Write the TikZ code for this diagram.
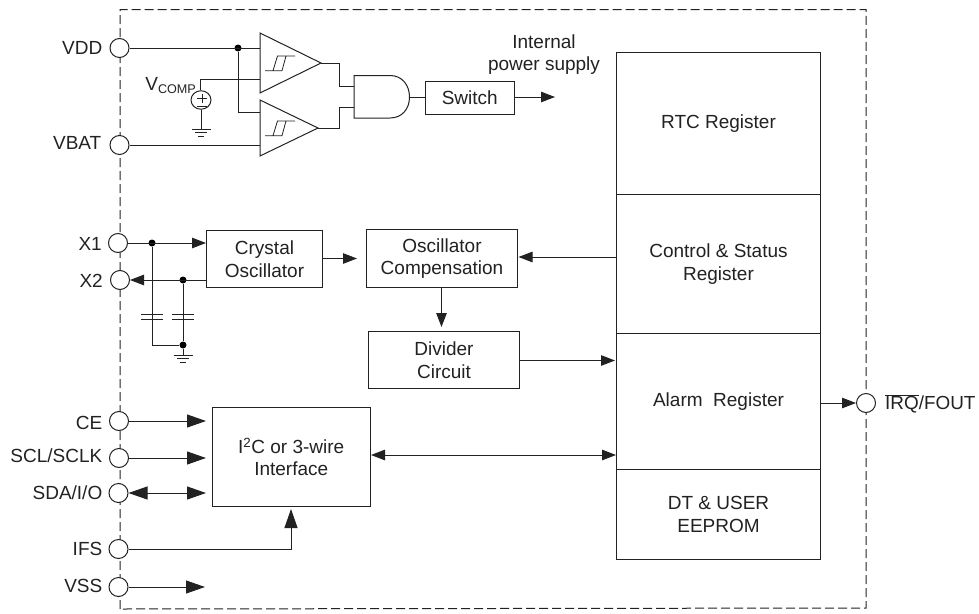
\documentclass[tikz,border=0pt]{standalone}
\usepackage{fontspec}
\setmainfont{Liberation Sans}
\usetikzlibrary{arrows.meta}
\definecolor{ink}{HTML}{222222}
\tikzset{
  wire/.style={line width=1pt,draw=ink},
  arr/.style={wire,-{Triangle[length=14pt,width=10.5pt]}},
  darr/.style={wire,{Triangle[length=14pt,width=10.5pt]}-{Triangle[length=14pt,width=10.5pt]}},
  arrbig/.style={wire,-{Triangle[length=19pt,width=13pt]}},
  darrbig/.style={wire,{Triangle[length=19pt,width=13pt]}-{Triangle[length=19pt,width=13pt]}},
  pin/.style={circle,draw=ink,line width=1pt,fill=white,minimum size=19pt,inner sep=0pt},
  pinlabel/.style={anchor=east,inner sep=0pt,text=ink,font=\fontsize{19}{22}\selectfont,text height=13.6pt,text depth=0pt},
  blockbox/.style={draw=ink,line width=1pt,fill=white,align=center,inner sep=0pt,text=ink,font=\fontsize{19}{22.6}\selectfont},
  txt/.style={align=center,inner sep=0pt,text=ink,font=\fontsize{19}{22.6}\selectfont},
  dotj/.style={circle,fill=black,minimum size=7pt,inner sep=0pt},
  gnd/.pic={
    \draw[wire] (-9.5,0) -- (9.5,0);
    \draw[wire] (-6,3.5) -- (6,3.5);
    \draw[wire] (-3,7) -- (3,7);
  },
  hyst/.pic={
    \draw[wire,line width=0.8pt] (0,14.7) -- (12,14.7) (8,14.7) -- (12.5,0) -- (30,0) (21,0) -- (17,14.7) -- (8,14.7);
  },
  cap/.pic={
    \draw[wire] (-11,-2.5) -- (11,-2.5) (-11,2.5) -- (11,2.5);
  }
}
\newcommand{\blockrect}[6]{\node[blockbox,minimum width=#4pt-#2pt,minimum height=#5pt-#3pt,anchor=north west] (#1) at (#2,#3) {#6};}
\begin{document}
\begin{tikzpicture}[x=1pt,y=-1pt]
\useasboundingbox (0,0) rectangle (979,613);
% frame
\draw[draw=ink,line width=1pt,dash pattern=on 9pt off 4pt] (120,609) -- (120,9.5) -- (866,9.5) -- (866,608) -- cycle;

% pins
\node[pin] (vdd) at (119.5,48) {};
\node[pin] (vbat) at (119.5,145) {};
\node[pin] (xone) at (118,243) {};
\node[pin] (xtwo) at (120,280) {};
\node[pin] (ce) at (119,421) {};
\node[pin] (scl) at (119,458) {};
\node[pin] (sda) at (118.5,493) {};
\node[pin] (ifs) at (118.5,549) {};
\node[pin] (vss) at (118.5,587) {};
\node[pin] (irq) at (866,403) {};
% pin labels
\node[pinlabel] (lvdd) at (102.5,48) {VDD};
\node[pinlabel] (lvbat) at (101.5,143) {VBAT};
\node[pinlabel] (lxone) at (102,244) {X1};
\node[pinlabel] (lxtwo) at (103,281) {X2};
\node[pinlabel] (lce) at (102.5,423) {CE};
\node[pinlabel] (lscl) at (102.5,456) {SCL/SCLK};
\node[pinlabel] (lsda) at (102.5,493) {SDA/I/O};
\node[pinlabel] (lifs) at (102.5,549) {IFS};
\node[pinlabel] (lvss) at (102.5,586) {VSS};
\node[anchor=west,inner sep=0pt,text=ink,font=\fontsize{18.9}{22}\selectfont,text height=13.6pt,text depth=0pt] (lirq) at (885,403) {$\overline{\mbox{IRQ}}$/FOUT};

% register stack
\blockrect{rtc}{616}{52}{820}{194}{RTC Register}
\blockrect{ctrl}{616}{194}{820}{333}{Control \& Status\\Register}
\blockrect{alarm}{616}{333}{820}{469}{Alarm\ \ Register}
\blockrect{eeprom}{616}{469}{820}{559}{DT \& USER\\EEPROM}

% blocks
\blockrect{switch}{424.5}{80.5}{514}{114}{Switch}
\blockrect{xtal}{206}{230}{322}{287}{Crystal\\Oscillator}
\blockrect{comp}{366}{229}{517}{287}{Oscillator\\Compensation}
\blockrect{divider}{368}{331}{519}{388}{Divider\\Circuit}
\blockrect{iface}{212}{407}{369.5}{506}{I\textsuperscript{2}C or 3-wire\\Interface}
\node[txt] (intps) at (544,54.5) {Internal\\power supply};

% comparators
\draw[wire,fill=white] (260,33) coordinate (ca1) -- (321,63) coordinate (cao) -- (260,93) coordinate (ca2) -- cycle;
\draw[wire,fill=white] (260,100) coordinate (cb1) -- (318,128) coordinate (cbo) -- (260,156) coordinate (cb2) -- cycle;
\pic at (265,56) {hyst};
\pic at (265,121) {hyst};

% AND gate
\draw[wire,fill=white] (354,75.5) -- (390,75.5) .. controls (402,75.5) and (409.5,85) .. (409.5,97) coordinate (ando)
  .. controls (409.5,109) and (402,118) .. (390,118) -- (354,118) -- cycle;
\coordinate (andi1) at (354,86);
\coordinate (andi2) at (354,107);

% VDD / VBAT wiring
\coordinate (cain) at (260,48);
\coordinate (cbin) at (260,112);
\coordinate (caref) at (260,79);
\coordinate (cbref) at (260,145);
\node[dotj] (jvdd) at (238,48) {};
\draw[wire] (vdd) -- (cain);
\draw[wire] (jvdd) |- (cbin);
\draw[wire] (vbat) -- (cbref);

% Vcomp source
\node[draw=ink,line width=1pt,fill=white,circle,minimum size=18.5pt,inner sep=0pt,xscale=1.08] (vsrc) at (201,100) {};
\coordinate (vtop) at (200.5,79);
\draw[wire] (caref) -- (vtop) -- (vsrc.north -| vtop);
\draw[line width=0.5pt,draw=ink] (197,98) -- (207,98) (202.5,93.5) -- (202.5,103) (197,106.5) -- (207,106.5);
\coordinate (vgnd) at (201,129);
\draw[wire] (vsrc) -- (vgnd);
\pic at (vgnd) {gnd};
\node[inner sep=0pt,anchor=east,text=ink,font=\fontsize{19}{22}\selectfont,text height=13.6pt,text depth=3.5pt] (lvcomp) at (196,85) {V\raisebox{-3.5pt}{\fontsize{12.6}{14}\selectfont COMP}};

% gate wires
\draw[wire] (cao) -- (339,63) -- (339,86) -- (andi1);
\draw[wire] (cbo) -- (339,128) -- (339,107) -- (andi2);
\draw[wire] (ando) -- (switch.west |- ando);
\coordinate (pwrout) at (555,97);
\draw[arr] (switch.east |- pwrout) -- (pwrout);

% crystal section
\node[dotj] (jx1) at (152,243) {};
\node[dotj] (jx2) at (183,280) {};
\node[dotj] (jg) at (183,345) {};
\coordinate (xin) at (206,243);
\coordinate (xout) at (206,280);
\draw[arr] (xone) -- (xin);
\draw[arr] (xout) -- (xtwo);
\coordinate (capa) at (152,317);
\coordinate (capb) at (183,317);
\draw[wire] (jx1) -- (capa);
\draw[wire] (jx2) -- (capb);
\draw[wire] (capa) -- (152,345) -- (jg);
\draw[wire] (capb) -- (jg);
\pic at (capa) {cap};
\pic at (capb) {cap};
\coordinate (xgnd) at (183,355);
\draw[wire] (jg) -- (xgnd);
\pic at (xgnd) {gnd};

% block connectors
\coordinate (compin) at (357,258.5);
\coordinate (compout) at (518.5,257);
\coordinate (divin) at (441.5,327);
\coordinate (alarmin) at (615,360.5);
\coordinate (ifl) at (371,455);
\coordinate (ifr) at (616,455);
\draw[arr] (xtal.east |- compin) -- (compin);
\draw[arr] (ctrl.west |- compout) -- (compout);
\draw[arr] (comp.south -| divin) -- (divin);
\draw[arr] (divider.east |- alarmin) -- (alarmin);
\draw[darr] (ifl) -- (ifr);
\draw[arr] (alarm.east |- irq) -- (irq);

% interface pins
\coordinate (cein) at (206,421);
\coordinate (sclin) at (206,458);
\coordinate (sdain) at (206,493);
\coordinate (ifsin) at (291,509);
\coordinate (vssout) at (205,587);
\draw[arrbig] (ce) -- (cein);
\draw[arrbig] (scl) -- (sclin);
\draw[darrbig] (sda) -- (sdain);
\draw[arrbig] (ifs) -| (ifsin);
\draw[arrbig] (vss) -- (vssout);
\end{tikzpicture}
\end{document}
